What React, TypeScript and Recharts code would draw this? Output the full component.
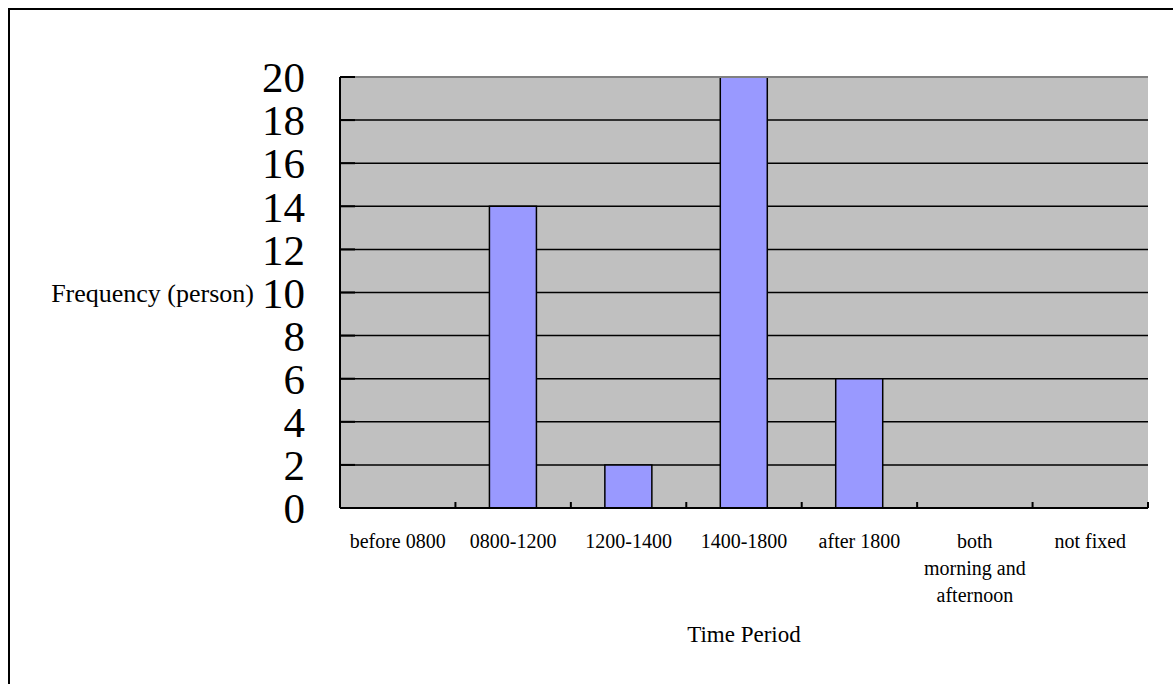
import { BarChart, Bar, XAxis, YAxis, CartesianGrid, ReferenceLine } from 'recharts';

const periods = ['before 0800', '0800-1200', '1200-1400', '1400-1800', 'after 1800', 'both morning and afternoon', 'not fixed'];
const periodLines = [['before 0800'], ['0800-1200'], ['1200-1400'], ['1400-1800'], ['after 1800'], ['both', 'morning and', 'afternoon'], ['not fixed']];
const frequency = [0, 14, 2, 20, 6, 0, 0];
const yTicks = [0, 2, 4, 6, 8, 10, 12, 14, 16, 18, 20];

const data = periods.map((p, i) => ({ period: p, frequency: frequency[i] }));

const FONT = '"Liberation Serif", "Times New Roman", serif';

// category label plus the small inward tick on the left edge of each band
function PeriodTick(props: any) {
  const { x, y, payload, index, visibleTicksCount } = props;
  const lines = periodLines[index] || [String(payload.value)];
  const left = payload.coordinate - payload.offset;
  const right = payload.coordinate + payload.offset;
  return (
    <g>
      <line x1={left} y1={y} x2={left} y2={y - 6} stroke="#000" strokeWidth={2} />
      {index === visibleTicksCount - 1 && (
        <line x1={right} y1={y} x2={right} y2={y - 6} stroke="#000" strokeWidth={2} />
      )}
      <text x={x} y={y + 40} textAnchor="middle" fontFamily={FONT} fontSize={20} fill="#000">
        {lines.map((l: string, k: number) => (
          <tspan key={k} x={x} dy={k === 0 ? 0 : 27}>{l}</tspan>
        ))}
      </text>
    </g>
  );
}

export default function App() {
  return (
    <div
      style={{
        position: 'fixed',
        left: 8,
        top: 8,
        width: 1165,
        height: 676,
        borderTop: '2px solid #000',
        borderLeft: '2px solid #000',
        background: '#fff',
      }}
    >
      <BarChart
        width={1160}
        height={670}
        data={data}
        margin={{ top: 67, right: 22, left: 0, bottom: 112 }}
      >
        {/* top edge of the plot is drawn grey by the reference line below */}
        <CartesianGrid
          vertical={false}
          fill="#c0c0c0"
          stroke="#000"
          strokeWidth={1.5}
          horizontalValues={yTicks.filter((v) => v < 20)}
        />
        <XAxis
          dataKey="period"
          interval={0}
          height={60}
          tickSize={0}
          tickMargin={0}
          tickLine={false}
          axisLine={{ stroke: '#000', strokeWidth: 2 }}
          tick={<PeriodTick />}
          label={(p: any) => {
            const vb = p.viewBox;
            return (
              <text x={vb.x + vb.width / 2} y={vb.y + 134} textAnchor="middle" fontFamily={FONT} fontSize={23} fill="#000">
                Time Period
              </text>
            );
          }}
        />
        <YAxis
          width={330}
          domain={[0, 20]}
          ticks={yTicks}
          interval={0}
          tickSize={-15}
          tickMargin={50}
          tickLine={{ stroke: '#000', strokeWidth: 2 }}
          axisLine={{ stroke: '#000', strokeWidth: 2 }}
          tick={{ fontFamily: FONT, fontSize: 43, fill: '#000' }}
          label={(p: any) => {
            const vb = p.viewBox;
            return (
              <text x={vb.x + vb.width - 86} y={vb.y + vb.height / 2 + 9} textAnchor="end" fontFamily={FONT} fontSize={26} fill="#000">
                Frequency (person)
              </text>
            );
          }}
        />
        <YAxis yAxisId="frame" orientation="right" width={0} domain={[0, 20]} tick={false} tickLine={false} axisLine={{ stroke: '#808080', strokeWidth: 2 }} />
        <ReferenceLine y={20} stroke="#808080" strokeWidth={2} />
        <Bar dataKey="frequency" fill="#9999ff" stroke="#000" strokeWidth={1.5} barSize={47} isAnimationActive={false} />
      </BarChart>
    </div>
  );
}
